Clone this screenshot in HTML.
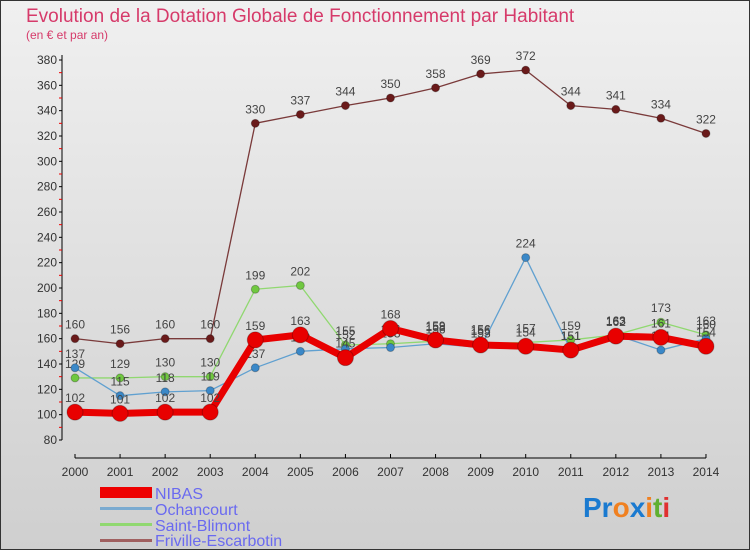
<!DOCTYPE html>
<html><head><meta charset="utf-8"><style>
body{margin:0;width:750px;height:550px;overflow:hidden;font-family:"Liberation Sans",sans-serif}
</style></head><body>
<svg width="750" height="550" xmlns="http://www.w3.org/2000/svg">
<defs><linearGradient id="bg" x1="0" y1="0" x2="0" y2="1"><stop offset="0" stop-color="#f0f0f0"/><stop offset="1" stop-color="#cfcfcf"/></linearGradient></defs>
<rect x="0.5" y="0.5" width="749" height="549" fill="url(#bg)" stroke="#333"/>
<text x="26" y="22" font-size="19" fill="#d63a6a">Evolution de la Dotation Globale de Fonctionnement par Habitant</text>
<text x="26" y="39" font-size="12" fill="#d63a6a">(en € et par an)</text>
<g id="axes"></g>
<g id="series"></g>
<g id="legend">
<rect x="100" y="487" width="52" height="11" fill="#e00"/>
<text x="155" y="499" font-size="16" fill="#6a6af0">NIBAS</text>
<rect x="100" y="507" width="52" height="3" fill="#7aaad0"/>
<text x="155" y="515" font-size="16" fill="#6a6af0">Ochancourt</text>
<rect x="100" y="523" width="52" height="3" fill="#90d870"/>
<text x="155" y="531" font-size="16" fill="#6a6af0">Saint-Blimont</text>
<rect x="100" y="539" width="52" height="3" fill="#a06060"/>
<text x="155" y="546" font-size="16" fill="#6a6af0">Friville-Escarbotin</text>
</g>
<g font-size="28" font-weight="bold">
<text x="583" y="517"><tspan fill="#1a7ad0">Pr</tspan><tspan fill="#f08020">o</tspan><tspan fill="#1a7ad0">x</tspan><tspan fill="#f08020">i</tspan><tspan fill="#60b030">t</tspan><tspan fill="#e03030">i</tspan></text>
</g>
</svg>
<script>
const years=[2000,2001,2002,2003,2004,2005,2006,2007,2008,2009,2010,2011,2012,2013,2014];
const yTicks=[80,100,120,140,160,180,200,220,240,260,280,300,320,340,360,380];
const nibas=[102,101,102,102,159,163,145,168,159,155,154,151,162,161,154];
const ochancourt=[137,115,118,119,137,150,152,153,156,153,224,151,163,151,160];
const saintBlimont=[129,129,130,130,199,202,155,156,158,156,157,159,163,173,163];
const friville=[160,156,160,160,330,337,344,350,358,369,372,344,341,334,322];
const NS="http://www.w3.org/2000/svg";
const x=i=>75+i*45.07;
const y=v=>440-(v-80)*1.2667;
function mk(tag,attrs,parent,txt){const e=document.createElementNS(NS,tag);for(const k in attrs)e.setAttribute(k,attrs[k]);if(txt!==undefined)e.textContent=txt;parent.appendChild(e);return e;}
const ax=document.getElementById('axes');
const yl=mk('line',{x1:62,y1:55,x2:62,y2:440,stroke:'#000'},ax);


yTicks.forEach(v=>{
 mk('line',{x1:59,y1:y(v),x2:62,y2:y(v),stroke:'#000'},ax);
 if(v<380) mk('line',{x1:59,y1:y(v+10),x2:62,y2:y(v+10),stroke:'#e00'},ax);
 const t=mk('text',{x:57,y:y(v)+4,'font-size':12,fill:'#333','text-anchor':'end'},ax,v);
 
 
});
const xl=mk('line',{x1:75,y1:458,x2:706,y2:458,stroke:'#000'},ax);


years.forEach((yr,i)=>{
 mk('line',{x1:x(i),y1:454,x2:x(i),y2:458,stroke:'#000'},ax);
 const t=mk('text',{x:x(i),y:465+11,'font-size':12,fill:'#333','text-anchor':'middle'},ax,yr);
 
 
});
const sg=document.getElementById('series');
function draw(vals,name,color,w,r,dot){
 const g=mk('g',{},sg);
 
 
 const p=mk('polyline',{points:vals.map((v,i)=>x(i)+','+y(v)).join(' '),fill:'none',stroke:color,'stroke-width':w,'stroke-linejoin':'round'},g);
 
 
 vals.forEach((v,i)=>{
  const c=mk('circle',{cx:x(i),cy:y(v),r:r,fill:dot,stroke:'rgba(0,0,0,0.25)'},g);
  
  
  const t=mk('text',{x:x(i),y:y(v)-10,'font-size':12,fill:'#444','text-anchor':'middle'},g,v);
  
  
 });
}
draw(friville,'friville-escarbotin','#7a3a3a',1.3,4,'#6a1a1a');
draw(saintBlimont,'saint-blimont','#90d870',1.3,4,'#70c840');
draw(ochancourt,'ochancourt','#60a0d0',1.3,4,'#3a88c8');
draw(nibas,'nibas','#e80000',7,8,'#e80000');
</script>
</body></html>
